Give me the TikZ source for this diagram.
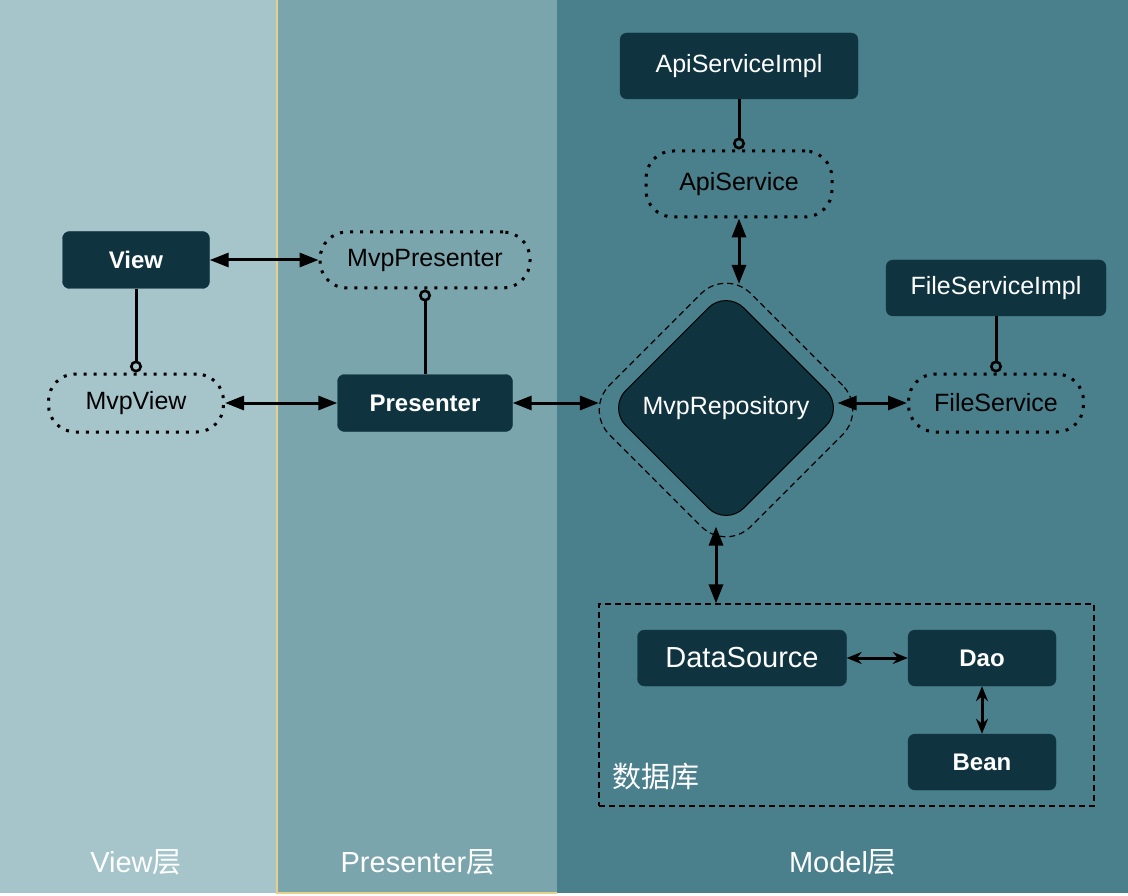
\documentclass[tikz,border=0pt]{standalone}
\usepackage{fontspec}
\setmainfont{Liberation Sans}
\newfontfamily\cjk{Noto Sans CJK SC}
\usepackage{xcolor}
\usetikzlibrary{arrows.meta, shapes.geometric, positioning}
\definecolor{viewbg}{HTML}{A6C5CB}
\definecolor{presbg}{HTML}{7AA5AD}
\definecolor{modelbg}{HTML}{4A7F8C}
\definecolor{boxfill}{HTML}{0F3440}
\definecolor{seam}{HTML}{E6D08C}

\begin{document}
\begin{tikzpicture}[x=1pt, y=-1pt,
  implbox/.style={draw=boxfill, fill=boxfill, rounded corners=7pt, inner sep=0pt,
    text=white, font=\fontsize{25}{30}\selectfont},
  boldbox/.style={implbox, font=\fontsize{24}{29}\selectfont\bfseries},
  iface/.style={draw=black, line width=3pt, dash pattern=on 3pt off 7pt,
    rounded corners=27pt, inner sep=0pt, text=black, font=\fontsize{25}{30}\selectfont},
  both/.style={{Triangle[length=19pt,width=14pt]}-{Triangle[length=19pt,width=14pt]}, line width=3pt},
  small both/.style={{Stealth[length=15pt,width=12pt]}-{Stealth[length=15pt,width=12pt]}, line width=3pt},
  impl/.style={-{Circle[open,length=12pt,line width=2.6pt]}, line width=3pt},
  layer/.style={text=white, font=\fontsize{29}{34}\selectfont}
]
\useasboundingbox (0,0) rectangle (1128,896);

% layers
\fill[white] (0,0) rectangle (1128,896);
\fill[viewbg] (0,0) rectangle (277,893);
\fill[presbg] (277,0) rectangle (557,893);
\fill[modelbg] (557,0) rectangle (1128,893);
\draw[seam, line width=1.5pt] (277,0) -- (277,893) -- (557,893);

\node[layer] (viewlayer) at (136,862) {View{\cjk 层}};
\node[layer] (preslayer) at (418,862) {Presenter{\cjk 层}};
\node[layer] (modellayer) at (843,862) {Model{\cjk 层}};

% view and presenter
\node[boldbox, minimum width=147, minimum height=57] (view) at (136,260) {View};
\node[iface, minimum width=210, minimum height=56] (mvppres) at (425,260) {MvpPresenter};
\node[iface, minimum width=175, minimum height=58] (mvpview) at (136,403) {MvpView};
\node[boldbox, minimum width=175, minimum height=57] (presenter) at (425,403) {Presenter};

% model
\node[implbox, minimum width=238, minimum height=66] (apiimpl) at (739,66) {ApiServiceImpl};
\node[iface, minimum width=186, minimum height=66] (api) at (739,184) {ApiService};
\node[implbox, minimum width=220, minimum height=56] (fileimpl) at (996,288) {FileServiceImpl};
\node[iface, minimum width=175, minimum height=58] (file) at (996,403) {FileService};

\node[diamond, draw=black, line width=1.2pt, dash pattern=on 6pt off 4pt, rounded corners=35pt,
  minimum width=283, minimum height=283, inner sep=0pt] (repoout) at (726,410) {};
\node[diamond, draw=black, line width=1pt, fill=boxfill, rounded corners=25pt,
  minimum width=236, minimum height=236, inner sep=0pt, text=white,
  font=\fontsize{25}{30}\selectfont] (repo) at (726,408) {MvpRepository};

% database
\node[draw=black, line width=1.2pt, dash pattern=on 6pt off 4pt, minimum width=495, minimum height=202] (db) at (846.5,705) {};
\node[implbox, minimum width=209, minimum height=56, font=\fontsize{29}{34}\selectfont] (source) at (742,658) {DataSource};
\node[boldbox, minimum width=148, minimum height=56] (dao) at (982,658) {Dao};
\node[boldbox, minimum width=148, minimum height=56] (bean) at (982,762) {Bean};
\node[text=white, font=\cjk\fontsize{29}{34}\selectfont, inner sep=0pt, anchor=west] (dbname) at (612,777) {数据库};

% connectors
\draw[both] (view.east) -- (mvppres.west);
\draw[impl] (view.south) -- (mvpview.north);
\draw[both] (mvpview.east) -- (presenter.west);
\draw[impl] (presenter.north) -- (mvppres.south);
\draw[both, shorten >=-15pt] (presenter.east) -- (presenter.east -| repoout.west);
\draw[impl] (apiimpl.south) -- (api.north);
\draw[both, shorten >=-16pt] (api.south) -- (api.south |- repoout.north);
\draw[impl] (fileimpl.south) -- (file.north);
\draw[both, shorten >=-7pt] (file.west) -- (file.west -| repo.east);
\draw[both] ([xshift=-10pt]repo.south) -- ([xshift=-10pt]repo.south |- db.north);
\draw[small both] (source.east) -- (dao.west);
\draw[small both] (dao.south) -- (bean.north);

\end{tikzpicture}
\end{document}
